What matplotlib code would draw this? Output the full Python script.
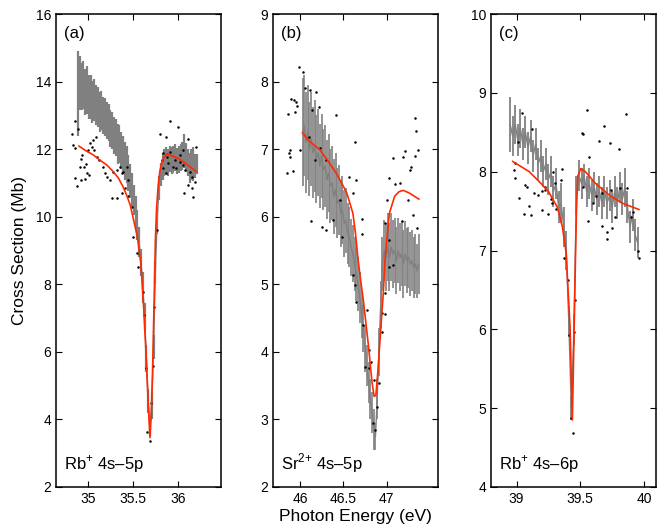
import numpy as np
import matplotlib
matplotlib.use("Agg")
import matplotlib.pyplot as plt

plt.rcParams['font.family'] = ['Liberation Sans', 'DejaVu Sans']
plt.rcParams['mathtext.fontset'] = 'custom'
plt.rcParams['mathtext.rm'] = 'Liberation Sans'

# ---- panel (a): Rb+ 4s-5p ----
a_e0, a_step = 34.89, 0.02
a_y = [13.65, 13.95, 13.85, 13.9, 13.7, 13.75, 13.55, 13.55, 13.4, 13.45,
       13.3, 13.25, 13.1, 13.15, 13.0, 12.95, 12.85, 12.8, 12.6, 12.55,
       12.4, 12.35, 12.15, 12.15, 11.95, 11.85, 11.65, 11.55, 11.3, 11.05,
       10.8, 10.5, 10.15, 9.75, 9.25, 8.65, 7.9, 7.05, 5.8, 4.55,
       3.75, 4.4, 6.15, 8.35, 9.9, 10.85, 11.25, 11.5, 11.6, 11.65,
       11.6, 11.7, 11.65, 11.7, 11.75, 11.65, 11.7, 11.75, 11.8, 11.95,
       11.75, 11.6, 11.45, 11.55, 11.55, 11.5, 11.55]
a_err = [1.25, 0.8, 0.7, 0.7, 0.68, 0.7, 0.65, 0.65, 0.63, 0.63,
         0.6, 0.6, 0.6, 0.58, 0.55, 0.55, 0.55, 0.55, 0.55, 0.55,
         0.55, 0.55, 0.58, 0.55, 0.55, 0.55, 0.55, 0.55, 0.53, 0.5,
         0.5, 0.45, 0.45, 0.45, 0.45, 0.4, 0.45, 0.4, 0.4, 0.35,
         0.25, 0.4, 0.35, 0.35, 0.4, 0.35, 0.35, 0.4, 0.4, 0.42,
         0.4, 0.38, 0.4, 0.4, 0.4, 0.38, 0.4, 0.4, 0.42, 0.5,
         0.42, 0.4, 0.45, 0.45, 0.5, 0.35, 0.3]
a_fit_e = [34.90, 34.985, 35.06, 35.13, 35.21, 35.28, 35.34, 35.39, 35.43, 35.47,
           35.50, 35.55, 35.59, 35.62, 35.65, 35.67, 35.69, 35.705, 35.72, 35.74,
           35.75, 35.765, 35.78, 35.80, 35.82, 35.85, 35.88, 35.95, 36.02, 36.10, 36.21]
a_fit_y = [12.09, 11.94, 11.83, 11.68, 11.53, 11.34, 11.14, 10.89, 10.64, 10.35,
           10.0, 9.4, 8.6, 7.3, 5.76, 4.5, 3.46, 4.2, 5.56, 8.0,
           9.3, 10.3, 10.88, 11.35, 11.59, 11.78, 11.86, 11.78, 11.70, 11.55, 11.33]
a_dot_e = [34.856, 34.826, 34.837, 34.852, 34.893, 34.937, 34.922, 34.956, 34.911, 34.978,
           35.004, 35.022, 35.059, 35.085, 35.041, 35.067, 35.096, 35.126, 34.985, 35.015,
           34.856, 34.874, 34.919, 34.967, 35.170, 35.189, 35.207, 35.244, 35.281, 35.319,
           35.356, 35.374, 35.393, 35.430, 35.448, 35.411, 35.263, 35.319, 35.374, 35.448,
           35.485, 35.504, 35.541, 35.552, 35.615, 35.626, 35.641, 35.659, 35.689, 35.707,
           35.719, 35.733, 35.763, 35.911, 36.004, 35.800, 35.867, 36.115, 36.059, 35.911,
           35.874, 35.967, 36.022, 35.948, 35.985, 36.059, 36.078, 36.133, 36.152, 36.115,
           36.152, 36.189, 36.207, 35.830, 35.867, 35.819, 36.070, 36.170, 36.022, 35.837,
           35.893]
a_dot_y = [12.83, 12.45, 12.11, 12.03, 12.59, 11.83, 11.71, 11.48, 11.46, 11.56,
           11.98, 12.17, 12.27, 12.37, 12.07, 11.98, 11.78, 11.68, 11.29, 11.24,
           11.14, 10.92, 11.09, 11.11, 11.48, 11.29, 11.19, 11.09, 11.33, 11.38,
           11.48, 11.29, 11.33, 11.48, 11.09, 10.84, 10.55, 10.55, 10.70, 10.60,
           10.30, 9.41, 8.92, 8.52, 7.78, 7.09, 5.53, 3.64, 3.35, 4.49,
           5.57, 7.34, 9.61, 12.84, 12.65, 12.45, 12.35, 12.29, 11.98, 11.93,
           11.78, 11.68, 11.63, 11.48, 11.43, 11.53, 11.38, 11.33, 11.19, 10.94,
           10.84, 11.04, 12.07, 11.43, 11.29, 11.68, 10.70, 10.59, 11.83, 11.88,
           11.58]

# ---- panel (b): Sr2+ 4s-5p ----
b_e0, b_step = 46.03, 0.02
b_y = [7.25, 7.35, 7.1, 7.25, 7.0, 7.15, 6.95, 7.05, 6.85, 6.95,
       6.75, 6.9, 6.7, 6.75, 6.55, 6.65, 6.45, 6.5, 6.3, 6.4,
       6.2, 6.25, 6.05, 6.1, 5.9, 5.95, 5.75, 5.7, 5.55, 5.45,
       5.3, 5.15, 5.0, 4.8, 4.55, 4.35, 4.05, 3.8, 3.55, 3.3,
       3.1, 2.85, 2.75, 3.3, 4.0, 4.7, 5.3, 5.5, 5.4, 5.55,
       5.4, 5.55, 5.45, 5.5, 5.35, 5.5, 5.4, 5.45, 5.3, 5.45,
       5.35, 5.4, 5.3, 5.35, 5.25, 5.3, 5.2, 5.3]
b_err = [0.8, 0.75, 0.75, 0.7, 0.7, 0.7, 0.68, 0.68, 0.65, 0.65,
         0.62, 0.62, 0.6, 0.6, 0.58, 0.58, 0.55, 0.55, 0.55, 0.55,
         0.52, 0.52, 0.5, 0.5, 0.5, 0.48, 0.45, 0.45, 0.42, 0.42,
         0.4, 0.4, 0.4, 0.38, 0.35, 0.35, 0.35, 0.3, 0.3, 0.3,
         0.3, 0.3, 0.2, 0.3, 0.35, 0.35, 0.4, 0.45, 0.5, 0.5,
         0.5, 0.5, 0.5, 0.48, 0.5, 0.48, 0.5, 0.48, 0.5, 0.48,
         0.48, 0.45, 0.48, 0.45, 0.45, 0.45, 0.4, 0.45]
b_fit_e = [46.03, 46.10, 46.23, 46.32, 46.42, 46.50, 46.54, 46.61, 46.64, 46.67,
           46.70, 46.73, 46.79, 46.83, 46.855, 46.875, 46.90, 46.92, 46.96, 46.98,
           47.00, 47.03, 47.09, 47.14, 47.19, 47.26, 47.37]
b_fit_y = [7.24, 7.13, 6.99, 6.83, 6.64, 6.45, 6.35, 6.05, 5.75, 5.36,
           5.05, 4.77, 4.08, 3.55, 3.34, 3.36, 3.75, 4.13, 4.87, 5.36,
           5.65, 6.05, 6.30, 6.37, 6.39, 6.35, 6.26]
b_dot_e = [45.99, 46.04, 45.90, 45.93, 45.95, 45.97, 45.86, 45.94, 45.89, 45.87,
           45.88, 45.85, 45.92, 46.00, 46.06, 46.12, 46.18, 46.22, 46.14, 46.41,
           46.11, 46.17, 46.23, 46.30, 46.63, 46.65, 46.56, 46.61, 46.46, 46.13,
           46.25, 46.30, 46.38, 46.48, 46.72, 46.71, 47.21, 47.07, 47.19, 47.32,
           47.34, 47.36, 47.33, 47.28, 47.27, 47.15, 47.10, 47.02, 47.00, 47.25,
           47.30, 47.35, 47.17, 46.98, 47.03, 46.61, 46.63, 46.65, 46.73, 46.77,
           46.80, 46.75, 46.79, 46.82, 46.85, 46.84, 46.87, 46.89, 46.91, 46.94,
           46.95, 46.98, 46.98, 47.03, 47.07]
b_dot_y = [8.21, 8.14, 7.74, 7.73, 7.70, 7.64, 7.52, 7.55, 6.99, 6.94,
           6.89, 6.64, 6.68, 6.99, 7.91, 7.88, 7.85, 7.62, 7.58, 7.51,
           7.18, 6.84, 7.01, 6.84, 7.10, 6.54, 6.59, 6.35, 6.25, 5.93,
           5.85, 5.80, 5.95, 5.70, 5.97, 5.75, 6.97, 6.87, 6.89, 7.46,
           7.27, 6.98, 6.90, 6.74, 6.69, 6.50, 6.48, 6.58, 6.24, 6.25,
           6.02, 5.84, 5.93, 5.90, 5.65, 5.14, 4.99, 4.74, 4.40, 4.62,
           4.03, 3.78, 3.76, 3.85, 3.58, 2.94, 2.84, 3.19, 3.54, 4.30,
           4.58, 4.87, 4.56, 5.26, 5.29]

# ---- panel (c): Rb+ 4s-6p ----
c_e0, c_step = 38.95, 0.02
c_y = [8.6, 8.45, 8.6, 8.4, 8.55, 8.35, 8.5, 8.3, 8.45, 8.2,
       8.35, 8.1, 8.2, 8.0, 8.1, 7.9, 8.0, 7.75, 7.85, 7.55,
       7.6, 7.3, 7.0, 6.1, 5.0, 6.0, 7.7, 7.95, 7.85, 7.95,
       7.75, 7.85, 7.7, 7.8, 7.65, 7.75, 7.6, 7.75, 7.6, 7.7,
       7.55, 7.75, 7.6, 7.8, 7.65, 7.8, 7.55, 7.3, 7.45, 7.2,
       7.1]
c_err = [0.35, 0.25, 0.25, 0.2, 0.25, 0.2, 0.2, 0.2, 0.2, 0.2,
         0.2, 0.2, 0.2, 0.2, 0.2, 0.2, 0.2, 0.2, 0.2, 0.2,
         0.25, 0.25, 0.25, 0.2, 0.15, 0.2, 0.25, 0.2, 0.2, 0.15,
         0.2, 0.2, 0.2, 0.2, 0.2, 0.2, 0.2, 0.2, 0.2, 0.2,
         0.2, 0.2, 0.2, 0.2, 0.2, 0.25, 0.2, 0.2, 0.2, 0.2,
         0.2]
c_fit_e = [38.97, 39.10, 39.18, 39.25, 39.32, 39.36, 39.39, 39.40, 39.42, 39.438,
           39.45, 39.46, 39.47, 39.48, 39.504, 39.54, 39.62, 39.73, 39.83, 39.96]
c_fit_y = [8.13, 8.0, 7.87, 7.75, 7.55, 7.30, 6.96, 6.63, 6.03, 4.85,
           5.82, 6.7, 7.5, 7.94, 8.04, 8.0, 7.85, 7.70, 7.60, 7.52]
c_dot_e = [38.99, 38.98, 38.99, 39.04, 39.12, 39.01, 39.02, 39.10, 39.06, 39.11,
           39.07, 39.08, 39.14, 39.17, 39.20, 39.22, 39.22, 39.20, 39.25, 39.27,
           39.29, 39.36, 39.35, 39.30, 39.28, 39.31, 39.37, 39.51, 39.52, 39.55,
           39.69, 39.65, 39.73, 39.80, 39.86, 39.57, 39.56, 39.67, 39.71, 39.75,
           39.77, 39.71, 39.52, 39.60, 39.62, 39.67, 39.74, 39.81, 39.87, 39.91,
           39.90, 39.95, 39.96, 39.40, 39.41, 39.45, 39.46, 39.43, 39.44]
c_dot_y = [8.11, 8.02, 7.92, 8.75, 8.54, 8.38, 7.66, 7.56, 7.46, 7.45,
           7.83, 7.81, 7.73, 7.70, 7.75, 7.77, 7.80, 7.51, 7.46, 7.65,
           7.99, 8.03, 7.90, 7.86, 7.60, 7.53, 6.90, 8.49, 8.48, 8.78,
           8.58, 8.39, 8.36, 8.29, 8.73, 8.18, 7.37, 7.31, 7.24, 7.28,
           7.43, 7.15, 7.81, 7.60, 7.69, 7.73, 7.77, 7.79, 7.79, 7.49,
           7.43, 6.99, 6.91, 6.63, 5.93, 5.97, 6.37, 4.87, 4.68]

panels = [
    dict(e0=a_e0, step=a_step, y=a_y, err=a_err, fe=a_fit_e, fy=a_fit_y,
         de=a_dot_e, dy=a_dot_y, xlim=(34.645, 36.48), ylim=(2, 16),
         xt=[35, 35.5, 36], yt=range(2, 17, 2), tag='(a)',
         name=r'Rb$^{\mathregular{+}}$ 4s' + '\u2013' + '5p', left=56, elw=1.6),
    dict(e0=b_e0, step=b_step, y=b_y, err=b_err, fe=b_fit_e, fy=b_fit_y,
         de=b_dot_e, dy=b_dot_y, xlim=(45.69, 47.59), ylim=(2, 9),
         xt=[46, 46.5, 47], yt=range(2, 10), tag='(b)',
         name=r'Sr$^{\mathregular{2{+}}}$ 4s' + '\u2013' + '5p', left=273, elw=1.2),
    dict(e0=c_e0, step=c_step, y=c_y, err=c_err, fe=c_fit_e, fy=c_fit_y,
         de=c_dot_e, dy=c_dot_y, xlim=(38.80, 40.094), ylim=(4, 10),
         xt=[39, 39.5, 40], yt=range(4, 11), tag='(c)',
         name=r'Rb$^{\mathregular{+}}$ 4s' + '\u2013' + '6p', left=491, elw=1.3),
]

W, H = 663, 527
fig = plt.figure(figsize=(W / 100, H / 100), dpi=100)

for p in panels:
    ax = fig.add_axes([p['left'] / W, 40 / H, 165 / W, 473 / H])
    y = np.array(p['y'])
    e = p['e0'] + p['step'] * np.arange(len(y))
    ax.errorbar(e, y, yerr=p['err'], color='0.5', lw=1.0, elinewidth=p['elw'],
                capsize=0, zorder=1)
    ax.plot(p['de'], p['dy'], 'k.', ms=1.6, zorder=2)
    ax.plot(p['fe'], p['fy'], color='#ff2a00', lw=1.2, zorder=3)
    ax.set_xlim(*p['xlim'])
    ax.set_ylim(*p['ylim'])
    ax.set_xticks(p['xt'])
    ax.set_xticklabels([f'{v:g}' for v in p['xt']])
    ax.set_yticks(list(p['yt']))
    ax.tick_params(direction='in', top=True, right=True, labelsize=10,
                   length=4, width=0.8)
    for s in ax.spines.values():
        s.set_linewidth(1.1)
    ax.text(0.05, 0.975, p['tag'], transform=ax.transAxes, va='top',
            ha='left', fontsize=12)
    ax.text(0.05, 0.025, p['name'], transform=ax.transAxes, va='bottom',
            ha='left', fontsize=12)

fig.text(20 / W, 0.5 + 13 / H, 'Cross Section (Mb)', rotation=90,
         va='center', ha='center', fontsize=12.5)
fig.text((273 + 82) / W, 10 / H, 'Photon Energy (eV)', va='center',
         ha='center', fontsize=12.5)

fig.savefig('out.png', dpi=100)
